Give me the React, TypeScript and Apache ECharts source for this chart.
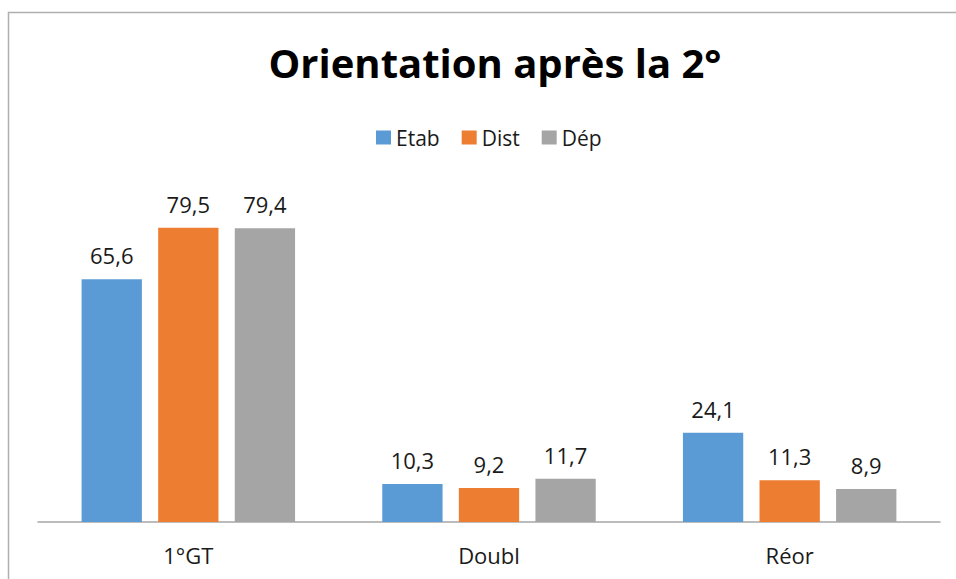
import React, { useEffect, useRef } from "react";
import * as echarts from "echarts";

const categories = ["1°GT", "Doubl", "Réor"];
const etab = [65.6, 10.3, 24.1];
const dist = [79.5, 9.2, 11.3];
const dep = [79.4, 11.7, 8.9];
const seriesNames = ["Etab", "Dist", "Dép"];
const colors = ["#5B9BD5", "#ED7D31", "#A5A5A5"];

export default function App() {
  const ref = useRef<HTMLDivElement>(null);
  useEffect(() => {
    const chart = echarts.init(ref.current!, null, { renderer: "svg" });
    const font = "Open Sans, Liberation Sans, sans-serif";
    const mk = (name: string, data: number[], color: string) => ({
      name,
      type: "bar",
      data,
      barGap: "27%",
      barCategoryGap: "29%",
      itemStyle: { color },
      label: {
        show: true,
        position: "top",
        distance: 13,
        color: "#1a1a1a",
        fontSize: 22,
        fontFamily: font,
        formatter: (p: any) => String(p.value).replace(".", ","),
      },
    });
    chart.setOption({
      animation: false,
      backgroundColor: "#fff",
      title: {
        text: "Orientation après la 2°",
        left: 490,
        textAlign: "center",
        top: 37,
        textStyle: { fontSize: 40, fontWeight: "bold", color: "#000", fontFamily: font },
      },
      legend: {
        data: seriesNames,
        top: 122,
        left: 371,
        itemWidth: 15,
        itemHeight: 14,
        itemGap: 22,
        icon: "rect",
        textStyle: { fontSize: 21, color: "#1a1a1a", fontFamily: font },
      },
      grid: { left: 38, right: 16, top: 189, bottom: 57, containLabel: false },
      xAxis: {
        type: "category",
        data: categories,
        axisLine: { lineStyle: { color: "#A6A6A6", width: 1.5 } },
        axisTick: { show: false },
        axisLabel: { fontSize: 22, color: "#1a1a1a", margin: 22, fontFamily: font },
      },
      yAxis: {
        type: "value",
        min: 0,
        max: 90,
        interval: 10,
        show: false,
        splitLine: { show: false },
      },
      graphic: [
        {
          type: "rect",
          shape: { x: 8.5, y: 12.5, width: 1000, height: 700 },
          style: { fill: "none", stroke: "#AFAFAF", lineWidth: 1.5 },
          silent: true,
        },
      ],
      series: [mk(seriesNames[0], etab, colors[0]), mk(seriesNames[1], dist, colors[1]), mk(seriesNames[2], dep, colors[2])],
    });
    return () => chart.dispose();
  }, []);
  return <div ref={ref} style={{ position: "fixed", left: 0, top: 0, width: 956, height: 579 }} />;
}
